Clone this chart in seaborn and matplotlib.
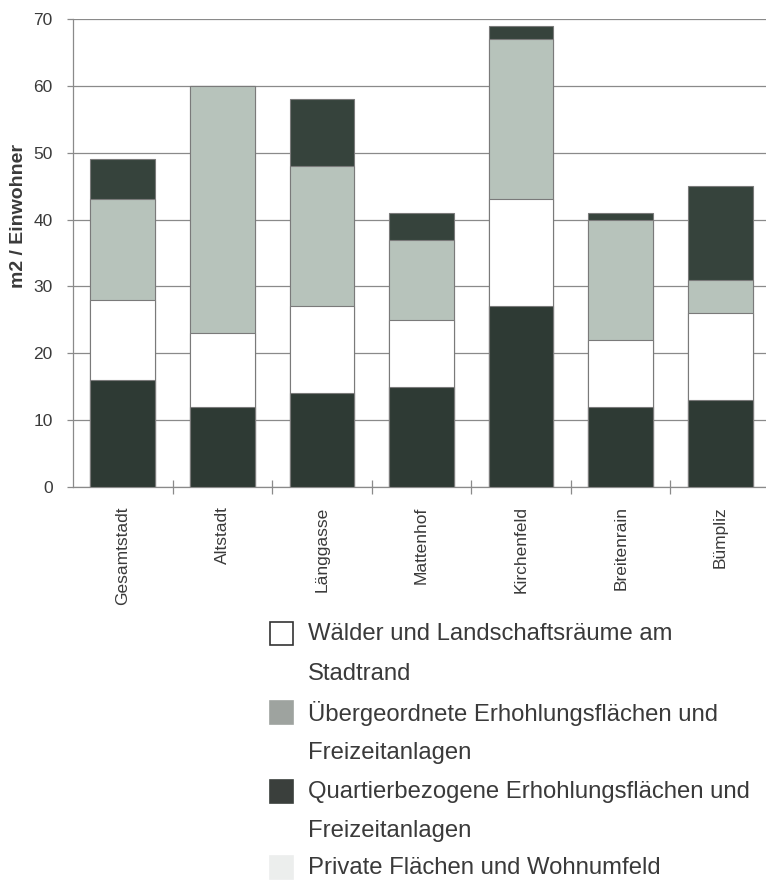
import numpy as np
import pandas as pd
import matplotlib
matplotlib.use("Agg")
import matplotlib.pyplot as plt
from matplotlib.patches import Rectangle
from matplotlib.ticker import FixedLocator
import seaborn as sns

# values in m2 per inhabitant
quartiere = ["Gesamtstadt", "Altstadt", "Länggasse", "Mattenhof",
             "Kirchenfeld", "Breitenrain", "Bümpliz"]
quartierbezogen = [16, 12, 14, 15, 27, 12, 13]
waelder = [12, 11, 13, 10, 16, 10, 13]
uebergeordnet = [15, 37, 21, 12, 24, 18, 5]
privat = [6, 0, 10, 4, 2, 1, 14]

legend_labels = [
    "Wälder und Landschaftsräume am\nStadtrand",
    "Übergeordnete Erhohlungsflächen und\nFreizeitanlagen",
    "Quartierbezogene Erhohlungsflächen und\nFreizeitanlagen",
    "Private Flächen und Wohnumfeld",
]

c_dark = "#2e3a34"
c_top = "#36433c"
c_gray = "#b7c3bb"
c_white = "#ffffff"
c_edge = "#7a7a7a"
c_axis = "#8a8a8a"
c_text = "#3a3a3a"

sns.set_style("white")
plt.rcParams["font.family"] = ["Liberation Sans", "DejaVu Sans"]

df = pd.DataFrame({
    "quartier": quartiere,
    "l1": quartierbezogen,
    "l2": np.array(quartierbezogen) + np.array(waelder),
})
df["l3"] = df["l2"] + np.array(uebergeordnet)
df["l4"] = df["l3"] + np.array(privat)

fig = plt.figure(figsize=(7.66, 8.83), dpi=100)
ax = fig.add_axes([0.0953, 0.4485, 0.91, 0.530])

# stacked bars drawn as overlapping cumulative totals
for col, color in [("l4", c_top), ("l3", c_gray), ("l2", c_white), ("l1", c_dark)]:
    sns.barplot(data=df, x="quartier", y=col, color=color, width=0.65,
                edgecolor=c_edge, linewidth=0.8, saturation=1, ax=ax, zorder=3)

ax.set_xlim(-0.5, 6.5)
ax.set_ylim(0, 70)
ax.set_yticks(range(0, 71, 10))
ax.yaxis.grid(True, color=c_axis, linewidth=0.9, zorder=0)
ax.set_axisbelow(True)

for s in ["top", "right"]:
    ax.spines[s].set_visible(False)
for s in ["left", "bottom"]:
    ax.spines[s].set_color(c_axis)
    ax.spines[s].set_linewidth(0.9)

ax.tick_params(axis="y", left=True, direction="out", length=4.5, width=0.9,
               color=c_axis, labelsize=12.5, labelcolor=c_text, pad=10)
ax.tick_params(axis="x", which="major", bottom=False, length=0, labelsize=12.5,
               labelcolor=c_text, pad=14)
ax.xaxis.set_minor_locator(FixedLocator([0.5, 1.5, 2.5, 3.5, 4.5, 5.5]))
ax.tick_params(axis="x", which="minor", bottom=True, direction="inout",
               length=10, width=0.9, color=c_axis)
plt.setp(ax.get_xticklabels(), rotation=90, va="top", ha="center")

ax.set_xlabel("")
ax.set_ylabel("m2 / Einwohner", fontsize=14, fontweight="bold", color=c_text)
ax.yaxis.set_label_coords(-0.066, 0.58)

# legend below the chart
W, H = 766, 883
swatches = [(c_white, "#333333"), ("#9ea39f", "#9ea39f"),
            ("#3a3f3c", "#3a3f3c"), ("#eceeed", "#eceeed")]
rows_y = [634, 713, 792, 868]
for (fc, ec), label, y in zip(swatches, legend_labels, rows_y):
    fig.patches.append(Rectangle((270 / W, 1 - (y + 11) / H), 23 / W, 23 / H,
                                 transform=fig.transFigure, facecolor=fc,
                                 edgecolor=ec, linewidth=1.2))
    for k, line in enumerate(label.split("\n")):
        fig.text(308 / W, 1 - (y + k * 39.5) / H, line, fontsize=17.2,
                 color=c_text, va="center", ha="left")

fig.savefig("out.png", dpi=100, facecolor="white")
